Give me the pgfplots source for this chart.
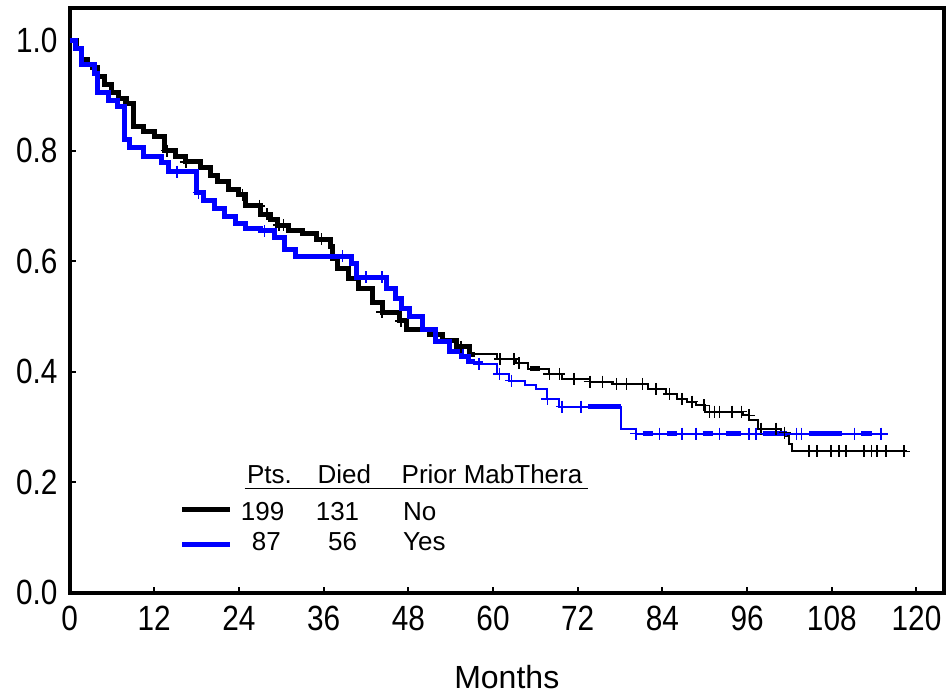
\documentclass[border=0pt]{standalone}
\usepackage{pgfplots}
\pgfplotsset{compat=1.18}
\usepackage{fontspec}
\setmainfont{Liberation Sans}[FakeStretch=0.85]
\newfontfamily\plainfont{Liberation Sans}
\definecolor{kmblue}{RGB}{0,0,255}
\newcommand{\lblfont}{\fontsize{17.5}{20}\selectfont}
\newcommand{\legfont}{\plainfont\fontsize{13}{15}\selectfont}
\begin{document}
\begin{tikzpicture}
\begin{axis}[
  scale only axis, width=437pt, height=292.5pt,
  xmin=0, xmax=123.9, ymin=0, ymax=1.059,
  axis line style={line width=2pt},
  xtick={0,12,...,120}, ytick={0,0.2,0.4,0.6,0.8,1.0},
  tick pos=left, tick align=inside, major tick length=3pt,
  tick style={line width=1pt, black},
  /pgf/number format/assume math mode=true,
  tick label style={font=\lblfont},
  x tick label style={yshift=-3pt},
  y tick label style={xshift=-2.5pt, /pgf/number format/.cd, fixed, fixed zerofill, precision=1},
  xlabel={Months},
  label style={font=\plainfont\fontsize{16}{18}\selectfont},
  xlabel style={at={(axis description cs:0.5,0)}, anchor=center, yshift=-42pt},
  clip=false,
]
% No prior MabThera (black)
\addplot[black, line width=2.5pt, const plot] coordinates {
(0,1.000)(1.0,0.985)(1.7,0.965)(2.5,0.955)(3.3,0.950)(4.0,0.935)(5.0,0.920)(6.0,0.905)(7.0,0.895)(8.0,0.885)(9.0,0.843)(10.5,0.835)(12.0,0.825)(13.4,0.800)(15.0,0.790)(16.5,0.780)(18.5,0.770)(20.0,0.755)(21.0,0.745)(22.5,0.730)(24.0,0.720)(25.0,0.700)(27.0,0.685)(28.5,0.675)(29.5,0.665)(31.0,0.655)(33.0,0.650)(35.0,0.640)(37.0,0.627)(37.3,0.604)(38.0,0.586)(39.5,0.568)(41.0,0.550)(42.9,0.526)(44.3,0.508)(46.7,0.492)(47.7,0.477)(51.0,0.468)(52.8,0.456)(54.8,0.445)(56.7,0.432)(57.5,0.432)};
\addplot[black, line width=1pt, const plot] coordinates {
(57.5,0.432)(60.5,0.423)(63.3,0.415)(65.0,0.405)(68.0,0.396)(69.8,0.387)(73.7,0.382)(77.0,0.378)(82.0,0.369)(84.5,0.360)(86.0,0.351)(87.5,0.346)(88.8,0.339)(90.0,0.328)(95.4,0.321)(96.3,0.312)(97.5,0.297)(100.8,0.290)(101.3,0.283)(102.0,0.270)(102.4,0.256)(118.7,0.256)};
\addplot[black, line width=2.5pt] coordinates {(65.2,0.405)(66.6,0.405)};
\addplot[black, only marks, mark=+, mark size=3pt, mark options={line width=0.8pt}] coordinates {
(13.8,0.800)(16.5,0.780)(24.5,0.720)(26.9,0.700)(28.0,0.685)(29.7,0.665)(30.3,0.665)(35.7,0.640)(44.3,0.508)(47.0,0.492)(55.5,0.445)(61.0,0.423)(63.0,0.423)(63.7,0.415)(68.0,0.396)(69.4,0.396)(71.5,0.387)(73.7,0.382)(75.5,0.382)(77.5,0.378)(78.9,0.378)(81.2,0.378)(83.1,0.369)(85.0,0.360)(86.8,0.351)(88.2,0.346)(89.9,0.339)(90.7,0.328)(91.4,0.328)(92.1,0.328)(93.9,0.328)(95.2,0.328)(96.3,0.321)(98.0,0.297)(100.1,0.297)(101.3,0.290)(104.8,0.256)(105.9,0.256)(107.9,0.256)(109.0,0.256)(110.0,0.256)(112.6,0.256)(113.6,0.256)(114.4,0.256)(115.7,0.256)(118.2,0.256)};
% Prior MabThera (blue)
\addplot[kmblue, line width=2.5pt, const plot] coordinates {
(0,1.000)(0.8,0.985)(1.7,0.955)(3.5,0.940)(4.0,0.905)(5.5,0.890)(6.8,0.880)(7.8,0.820)(8.5,0.805)(10.5,0.790)(13.0,0.778)(14.0,0.762)(18.0,0.724)(19.0,0.710)(20.5,0.695)(22.0,0.680)(23.5,0.668)(25.0,0.660)(27.0,0.655)(29.0,0.643)(30.5,0.622)(32.0,0.609)(40.0,0.595)(40.6,0.571)(44.9,0.550)(46.2,0.532)(47.0,0.514)(48.1,0.500)(50.0,0.477)(51.9,0.454)(53.8,0.436)(55.5,0.427)(56.5,0.418)(57.5,0.418)};
\addplot[kmblue, line width=1pt, const plot] coordinates {
(57.5,0.418)(58.5,0.414)(60.5,0.396)(62.3,0.384)(64.5,0.376)(66.1,0.369)(67.6,0.351)(69.4,0.337)(78.2,0.297)(80.2,0.288)(115.9,0.288)};
\addplot[kmblue, line width=2.5pt] coordinates {(73.5,0.337)(78.2,0.337)};
\addplot[kmblue, line width=2.5pt] coordinates {(81.2,0.288)(82.6,0.288)};
\addplot[kmblue, line width=2.5pt] coordinates {(84.7,0.288)(86.1,0.288)};
\addplot[kmblue, line width=2.5pt] coordinates {(89.7,0.288)(91.1,0.288)};
\addplot[kmblue, line width=2.5pt] coordinates {(93.0,0.288)(95.2,0.288)};
\addplot[kmblue, line width=2.5pt] coordinates {(98.2,0.288)(101.6,0.288)};
\addplot[kmblue, line width=2.5pt] coordinates {(104.8,0.288)(109.5,0.288)};
\addplot[kmblue, line width=2.5pt] coordinates {(112.2,0.288)(113.7,0.288)};
\addplot[kmblue, only marks, mark=+, mark size=3pt, mark options={line width=0.8pt}] coordinates {
(15.2,0.762)(18.3,0.724)(27.6,0.655)(38.7,0.609)(42.0,0.571)(44.3,0.571)(58.0,0.414)(60.9,0.396)(62.6,0.384)(67.7,0.351)(69.8,0.337)(72.5,0.337)(80.3,0.288)(83.6,0.288)(86.8,0.288)(88.8,0.288)(92.1,0.288)(96.3,0.288)(97.3,0.288)(103.0,0.288)(103.7,0.288)(111.2,0.288)(115.0,0.288)};
% legend
\addplot[black, line width=2.5pt] coordinates {(16.0,0.150)(22.7,0.150)};
\addplot[kmblue, line width=2.5pt] coordinates {(16.0,0.088)(22.7,0.088)};
\addplot[black, line width=0.8pt] coordinates {(24.8,0.189)(73.4,0.189)};
\node[anchor=base west, inner sep=0pt, font=\legfont] at (axis cs:25.1,0.198) {Pts.};
\node[anchor=base west, inner sep=0pt, font=\legfont] at (axis cs:35.1,0.198) {Died};
\node[anchor=base west, inner sep=0pt, font=\legfont] at (axis cs:47.0,0.198) {Prior MabThera};
\node[anchor=base east, inner sep=0pt, font=\legfont] at (axis cs:30.5,0.1315) {199};
\node[anchor=base east, inner sep=0pt, font=\legfont] at (axis cs:41.1,0.1315) {131};
\node[anchor=base west, inner sep=0pt, font=\legfont] at (axis cs:47.2,0.1315) {No};
\node[anchor=base east, inner sep=0pt, font=\legfont] at (axis cs:30.0,0.077) {87};
\node[anchor=base east, inner sep=0pt, font=\legfont] at (axis cs:40.8,0.077) {56};
\node[anchor=base west, inner sep=0pt, font=\legfont] at (axis cs:47.2,0.077) {Yes};
\end{axis}
\pgfresetboundingbox
\path ([xshift=-34.75pt,yshift=-51.75pt]current axis.south west) rectangle ([xshift=1pt,yshift=3.75pt]current axis.north east);
\end{tikzpicture}
\end{document}
